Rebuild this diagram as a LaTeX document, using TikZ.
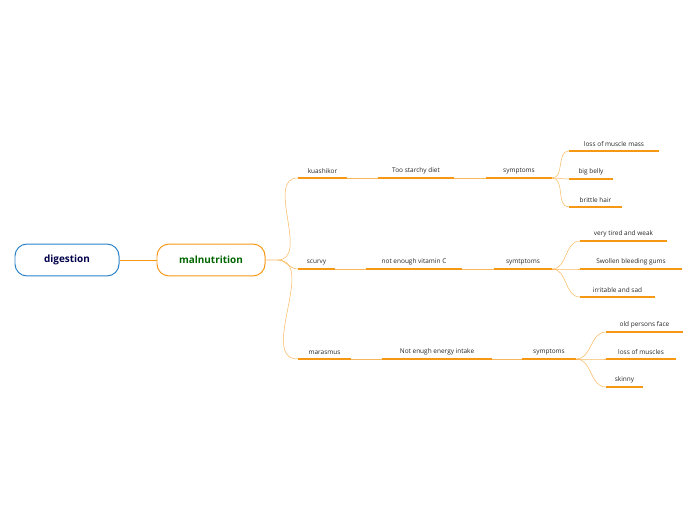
\documentclass[tikz,border=0pt]{standalone}
\usepackage{fontspec}
\setmainfont{Open Sans}
\definecolor{mmorange}{RGB}{246,152,20}
\definecolor{mmblue}{RGB}{44,130,201}
\tikzset{
  topic/.style={anchor=south, inner xsep=0pt, inner ysep=4pt, font=\fontsize{6.5}{8}\selectfont, text=black!85},
  uline/.style={mmorange, line width=1.6pt},
  link/.style={mmorange!70, line width=0.5pt},
  mainbox/.style={draw, line width=1pt, rounded corners=12pt, minimum height=32pt, font=\bfseries\fontsize{10}{12}\selectfont},
}
\newcommand{\topicnode}[5]{% name, x1, x2, y, text
  \node[topic, minimum width={(#3-#2)*1bp}] (#1) at ({(#2+#3)/2}, #4) {#5};
  \draw[uline] (#1.south west) -- (#1.south east);
}
\begin{document}
\begin{tikzpicture}[x=1bp, y=-1bp]
  \useasboundingbox (0,0) rectangle (696,520);

  \node[mainbox, draw=mmblue, text=black!70!blue, minimum width=104bp] (digestion) at (67,260) {digestion};
  \node[mainbox, draw=mmorange, text=black!60!green, minimum width=108bp] (malnutrition) at (211,260) {malnutrition};
  \draw[mmorange, line width=1pt] (digestion) -- (malnutrition);

  % kuashikor
  \topicnode{kuash}{298}{347}{178}{kuashikor}
  \topicnode{starchy}{378}{454}{178}{Too starchy diet}
  \topicnode{symA}{486}{552}{178}{symptoms}
  \topicnode{muscleA}{569}{659}{151}{loss of muscle mass}
  \topicnode{belly}{569}{613}{179}{big belly}
  \topicnode{hair}{569}{622}{207}{brittle hair}

  % scurvy
  \topicnode{scurvy}{298}{335}{269}{scurvy}
  \topicnode{vitc}{366}{462}{269}{not enough vitamin C}
  \topicnode{symB}{494}{552}{269}{symtptoms}
  \topicnode{tired}{580}{667}{241}{very tired and weak}
  \topicnode{gums}{580}{682}{269}{Swollen bleeding gums}
  \topicnode{sad}{580}{655}{297}{irritable and sad}

  % marasmus
  \topicnode{maras}{298}{351}{359}{marasmus}
  \topicnode{energy}{382}{492}{359}{Not enugh energy intake}
  \topicnode{symC}{522}{576}{359}{symptoms}
  \topicnode{face}{606}{683}{332}{old persons face}
  \topicnode{muscleC}{606}{676}{359}{loss of muscles}
  \topicnode{skinny}{606}{643}{387}{skinny}

  \foreach \a/\b in {malnutrition.east/kuash.south west, malnutrition.east/scurvy.south west, malnutrition.east/maras.south west}
    \draw[link] (\a) -- ++(12,0) to[out=0, in=180] (\b);
  \foreach \a/\b in {kuash/starchy, starchy/symA, scurvy/vitc, vitc/symB, maras/energy, energy/symC}
    \draw[link] (\a.south east) -- (\b.south west);
  \foreach \a/\b in {symA/muscleA, symA/belly, symA/hair, symB/tired, symB/gums, symB/sad, symC/face, symC/muscleC, symC/skinny}
    \draw[link] (\a.south east) to[out=0, in=180] (\b.south west);
\end{tikzpicture}
\end{document}
